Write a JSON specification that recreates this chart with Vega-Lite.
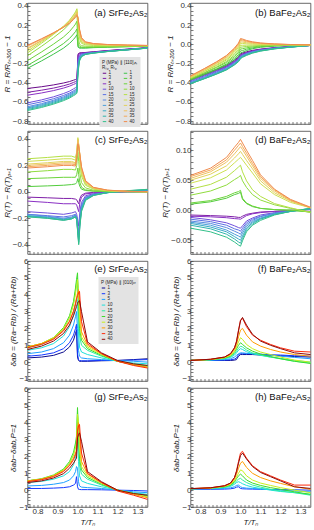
{
"$schema":"https://vega.github.io/schema/vega-lite/v6.json",
"padding":{"left":2.5,"top":1,"right":0,"bottom":0},
"config":{
 "font":"Liberation Sans",
 "view":{"stroke":"#444","strokeWidth":0.8},
 "axis":{"grid":false,"domain":false,"tickColor":"#444","tickWidth":0.7,"tickSize":-2.5,"labelFontSize":8,"labelColor":"#333","labelFont":"Liberation Sans","titleFont":"Liberation Sans","titleFontSize":8,"titleFontWeight":"normal","titleFontStyle":"italic","titleColor":"#222","labelPadding":2,"titlePadding":1,"labelFlush":false,"labelOverlap":false},
 "title":{"anchor":"end","offset":-16,"fontSize":9.5,"fontWeight":"normal","font":"Liberation Sans","color":"#111","dx":-2},
 "line":{"strokeWidth":1,"clip":true}
},
"datasets":{
"a":[
{"x":0.75,"z":0,"L1":-0.46,"L3":-0.5,"L5":-0.53,"L10":-0.61,"L15":-0.63,"L20":-0.65,"L25":-0.66,"L30":-0.67,"L35":-0.68,"L40":-0.69,"R1":-0.25,"R3":-0.22,"R5":-0.17,"R10":-0.12,"R15":-0.09,"R20":-0.07,"R25":-0.05,"R30":-0.04,"R35":-0.02,"R40":-0.01},
{"x":0.82,"L1":-0.442,"L3":-0.478,"L5":-0.507,"L10":-0.579,"L15":-0.599,"L20":-0.618,"L25":-0.628,"L30":-0.638,"L35":-0.648,"L40":-0.658,"R1":-0.173,"R3":-0.136,"R5":-0.08,"R10":-0.021,"R15":0.011,"R20":0.025,"R25":0.036,"R30":0.041,"R35":0.053,"R40":0.058},
{"x":0.88,"L1":-0.423,"L3":-0.456,"L5":-0.482,"L10":-0.547,"L15":-0.567,"L20":-0.583,"L25":-0.593,"L30":-0.603,"L35":-0.613,"L40":-0.623,"R1":-0.103,"R3":-0.06,"R5":0.002,"R10":0.069,"R15":0.103,"R20":0.111,"R25":0.114,"R30":0.115,"R35":0.119,"R40":0.12},
{"x":0.93,"L1":-0.403,"L3":-0.432,"L5":-0.456,"L10":-0.513,"L15":-0.533,"L20":-0.547,"L25":-0.557,"L30":-0.567,"L35":-0.577,"L40":-0.587,"R1":-0.04,"R3":0.008,"R5":0.076,"R10":0.15,"R15":0.186,"R20":0.188,"R25":0.184,"R30":0.182,"R35":0.178,"R40":0.176},
{"x":0.96,"L1":-0.388,"L3":-0.414,"L5":-0.436,"L10":-0.488,"L15":-0.508,"L20":-0.52,"L25":-0.53,"L30":-0.54,"L35":-0.55,"L40":-0.56,"R1":0.009,"R3":0.061,"R5":0.133,"R10":0.213,"R15":0.25,"R20":0.248,"R25":0.239,"R30":0.234,"R35":0.224,"R40":0.219},
{"x":0.98,"L1":-0.374,"L3":-0.397,"L5":-0.418,"L10":-0.464,"L15":-0.484,"L20":-0.495,"L25":-0.505,"L30":-0.515,"L35":-0.525,"L40":-0.535,"R1":0.051,"R3":0.107,"R5":0.183,"R10":0.267,"R15":0.306,"R20":0.3,"R25":0.285,"R30":0.278,"R35":0.264,"R40":0.257},
{"x":0.99,"L1":-0.367,"L3":-0.389,"L5":-0.409,"L10":-0.452,"L15":-0.472,"L20":-0.483,"L25":-0.493,"L30":-0.503,"L35":-0.513,"L40":-0.523,"R1":0.076,"R3":0.133,"R5":0.211,"R10":0.299,"R15":0.338,"R20":0.33,"R25":0.313,"R30":0.304,"R35":0.287,"R40":0.278},
{"x":0.997,"L1":-0.36,"L3":-0.38,"L5":-0.4,"L10":-0.44,"L15":-0.46,"L20":-0.47,"L25":-0.48,"L30":-0.49,"L35":-0.5,"L40":-0.51,"R1":0.1,"R3":0.16,"R5":0.24,"R10":0.33,"R15":0.37,"R20":0.36,"R25":0.34,"R30":0.33,"R35":0.31,"R40":0.3},
{"x":1.003,"L1":-0.1,"L3":-0.11,"L5":-0.12,"L10":-0.16,"L15":-0.19,"L20":-0.21,"L25":-0.23,"L30":-0.25,"L35":-0.27,"L40":-0.29,"R1":-0.03,"R3":-0.02,"R5":0,"R10":0.08,"R15":0.2,"R20":0.24,"R25":0.26,"R30":0.27,"R35":0.27,"R40":0.27},
{"x":1.01,"L1":-0.09,"L3":-0.095,"L5":-0.1,"L10":-0.115,"L15":-0.125,"L20":-0.135,"L25":-0.145,"L30":-0.155,"L35":-0.165,"L40":-0.175,"R1":-0.04,"R3":-0.035,"R5":-0.02,"R10":0,"R15":0.06,"R20":0.09,"R25":0.12,"R30":0.14,"R35":0.15,"R40":0.16},
{"x":1.02,"L1":-0.088,"L3":-0.09,"L5":-0.093,"L10":-0.1,"L15":-0.105,"L20":-0.11,"L25":-0.115,"L30":-0.12,"L35":-0.125,"L40":-0.13,"R1":-0.04,"R3":-0.035,"R5":-0.03,"R10":-0.015,"R15":0.01,"R20":0.025,"R25":0.04,"R30":0.05,"R35":0.06,"R40":0.07},
{"x":1.04,"L1":-0.085,"L3":-0.087,"L5":-0.089,"L10":-0.093,"L15":-0.096,"L20":-0.098,"L25":-0.1,"L30":-0.102,"L35":-0.104,"L40":-0.106,"R1":-0.04,"R3":-0.035,"R5":-0.03,"R10":-0.02,"R15":-0.005,"R20":0.005,"R25":0.012,"R30":0.018,"R35":0.022,"R40":0.026},
{"x":1.08,"L1":-0.078,"L3":-0.08,"L5":-0.082,"L10":-0.085,"L15":-0.087,"L20":-0.088,"L25":-0.089,"L30":-0.09,"L35":-0.091,"L40":-0.092,"R1":-0.035,"R3":-0.032,"R5":-0.03,"R10":-0.022,"R15":-0.012,"R20":-0.005,"R25":0,"R30":0.004,"R35":0.006,"R40":0.008},
{"x":1.15,"L1":-0.065,"L3":-0.067,"L5":-0.069,"L10":-0.071,"L15":-0.072,"L20":-0.073,"L25":-0.074,"L30":-0.075,"L35":-0.075,"L40":-0.076,"R1":-0.03,"R3":-0.028,"R5":-0.027,"R10":-0.022,"R15":-0.015,"R20":-0.01,"R25":-0.007,"R30":-0.005,"R35":-0.003,"R40":-0.002},
{"x":1.25,"L1":-0.05,"L3":-0.052,"L5":-0.053,"L10":-0.055,"L15":-0.056,"L20":-0.056,"L25":-0.057,"L30":-0.057,"L35":-0.058,"L40":-0.058,"R1":-0.025,"R3":-0.024,"R5":-0.023,"R10":-0.02,"R15":-0.016,"R20":-0.013,"R25":-0.011,"R30":-0.01,"R35":-0.009,"R40":-0.008},
{"x":1.35,"z":0,"L1":-0.035,"L3":-0.036,"L5":-0.037,"L10":-0.038,"L15":-0.038,"L20":-0.039,"L25":-0.039,"L30":-0.04,"L35":-0.04,"L40":-0.04,"R1":-0.02,"R3":-0.02,"R5":-0.02,"R10":-0.018,"R15":-0.016,"R20":-0.015,"R25":-0.014,"R30":-0.013,"R35":-0.012,"R40":-0.012}
],
"b":[
{"x":0.75,"z":0,"L1":-0.36,"L3":-0.37,"L5":-0.37,"L10":-0.38,"L15":-0.39,"L20":-0.4,"L25":-0.4,"L30":-0.41,"L35":-0.41,"L40":-0.41,"R1":-0.37,"R3":-0.37,"R5":-0.36,"R10":-0.36,"R15":-0.35,"R20":-0.35,"R25":-0.34,"R30":-0.34,"R35":-0.33,"R40":-0.33},
{"x":0.82,"L1":-0.308,"L3":-0.318,"L5":-0.319,"L10":-0.328,"L15":-0.337,"L20":-0.346,"L25":-0.347,"L30":-0.356,"L35":-0.357,"L40":-0.358,"R1":-0.314,"R3":-0.31,"R5":-0.298,"R10":-0.294,"R15":-0.282,"R20":-0.278,"R25":-0.267,"R30":-0.264,"R35":-0.254,"R40":-0.252},
{"x":0.88,"L1":-0.261,"L3":-0.271,"L5":-0.273,"L10":-0.281,"L15":-0.289,"L20":-0.297,"L25":-0.299,"L30":-0.307,"L35":-0.309,"L40":-0.311,"R1":-0.264,"R3":-0.256,"R5":-0.242,"R10":-0.235,"R15":-0.221,"R20":-0.213,"R25":-0.201,"R30":-0.196,"R35":-0.186,"R40":-0.182},
{"x":0.93,"L1":-0.217,"L3":-0.227,"L5":-0.23,"L10":-0.237,"L15":-0.244,"L20":-0.252,"L25":-0.254,"L30":-0.262,"L35":-0.264,"L40":-0.267,"R1":-0.216,"R3":-0.205,"R5":-0.19,"R10":-0.179,"R15":-0.163,"R20":-0.152,"R25":-0.139,"R30":-0.131,"R35":-0.121,"R40":-0.116},
{"x":0.97,"L1":-0.165,"L3":-0.175,"L5":-0.179,"L10":-0.185,"L15":-0.191,"L20":-0.198,"L25":-0.201,"L30":-0.208,"L35":-0.211,"L40":-0.215,"R1":-0.16,"R3":-0.145,"R5":-0.128,"R10":-0.113,"R15":-0.095,"R20":-0.08,"R25":-0.066,"R30":-0.055,"R35":-0.045,"R40":-0.038},
{"x":0.99,"L1":-0.131,"L3":-0.141,"L5":-0.146,"L10":-0.151,"L15":-0.157,"L20":-0.162,"L25":-0.167,"L30":-0.172,"L35":-0.177,"L40":-0.181,"R1":-0.124,"R3":-0.106,"R5":-0.087,"R10":-0.07,"R15":-0.051,"R20":-0.033,"R25":-0.019,"R30":-0.006,"R35":0.004,"R40":0.013},
{"x":1.0,"L1":-0.1,"L3":-0.11,"L5":-0.115,"L10":-0.12,"L15":-0.125,"L20":-0.13,"L25":-0.135,"L30":-0.14,"L35":-0.145,"L40":-0.15,"R1":-0.09,"R3":-0.07,"R5":-0.05,"R10":-0.03,"R15":-0.01,"R20":0.01,"R25":0.025,"R30":0.04,"R35":0.05,"R40":0.06},
{"x":1.01,"L1":-0.091,"L3":-0.1,"L5":-0.105,"L10":-0.109,"L15":-0.114,"L20":-0.118,"L25":-0.123,"L30":-0.127,"L35":-0.132,"L40":-0.136,"R1":-0.083,"R3":-0.065,"R5":-0.046,"R10":-0.028,"R15":-0.01,"R20":0.009,"R25":0.023,"R30":0.036,"R35":0.046,"R40":0.055},
{"x":1.03,"L1":-0.078,"L3":-0.086,"L5":-0.089,"L10":-0.093,"L15":-0.097,"L20":-0.1,"L25":-0.104,"L30":-0.108,"L35":-0.112,"L40":-0.116,"R1":-0.065,"R3":-0.051,"R5":-0.037,"R10":-0.023,"R15":-0.009,"R20":0.005,"R25":0.016,"R30":0.026,"R35":0.033,"R40":0.04},
{"x":1.06,"L1":-0.063,"L3":-0.069,"L5":-0.072,"L10":-0.075,"L15":-0.078,"L20":-0.08,"L25":-0.083,"L30":-0.086,"L35":-0.089,"L40":-0.092,"R1":-0.046,"R3":-0.037,"R5":-0.027,"R10":-0.018,"R15":-0.008,"R20":0.002,"R25":0.009,"R30":0.016,"R35":0.021,"R40":0.026},
{"x":1.1,"L1":-0.05,"L3":-0.054,"L5":-0.056,"L10":-0.058,"L15":-0.061,"L20":-0.063,"L25":-0.065,"L30":-0.067,"L35":-0.069,"L40":-0.071,"R1":-0.031,"R3":-0.025,"R5":-0.019,"R10":-0.013,"R15":-0.007,"R20":-0.001,"R25":0.003,"R30":0.008,"R35":0.011,"R40":0.014},
{"x":1.17,"L1":-0.035,"L3":-0.037,"L5":-0.039,"L10":-0.04,"L15":-0.041,"L20":-0.043,"L25":-0.044,"L30":-0.045,"L35":-0.047,"L40":-0.048,"R1":-0.019,"R3":-0.016,"R5":-0.013,"R10":-0.01,"R15":-0.007,"R20":-0.004,"R25":-0.001,"R30":0.001,"R35":0.002,"R40":0.004},
{"x":1.25,"L1":-0.023,"L3":-0.025,"L5":-0.025,"L10":-0.026,"L15":-0.027,"L20":-0.027,"L25":-0.028,"L30":-0.029,"L35":-0.029,"L40":-0.03,"R1":-0.011,"R3":-0.01,"R5":-0.009,"R10":-0.007,"R15":-0.006,"R20":-0.005,"R25":-0.004,"R30":-0.003,"R35":-0.003,"R40":-0.002},
{"x":1.35,"z":0,"L1":-0.012,"L3":-0.012,"L5":-0.012,"L10":-0.012,"L15":-0.012,"L20":-0.012,"L25":-0.012,"L30":-0.012,"L35":-0.012,"L40":-0.012,"R1":-0.006,"R3":-0.006,"R5":-0.006,"R10":-0.006,"R15":-0.006,"R20":-0.006,"R25":-0.006,"R30":-0.006,"R35":-0.006,"R40":-0.006}
],
"c":[
{"x":0.75,"z":0,"L1":0,"R1":0,"L3":-0.04,"L5":-0.07,"L10":-0.15,"L15":-0.17,"L20":-0.17,"L25":-0.18,"L30":-0.18,"L35":-0.185,"L40":-0.19,"R3":0.04,"R5":0.1,"R10":0.15,"R15":0.25,"R20":0.23,"R25":0.21,"R30":0.2,"R35":0.19,"R40":0.18},
{"x":0.85,"L3":-0.045,"L5":-0.08,"L10":-0.16,"L15":-0.18,"L20":-0.185,"L25":-0.19,"L30":-0.195,"L35":-0.2,"L40":-0.2,"R3":0.045,"R5":0.105,"R10":0.16,"R15":0.26,"R20":0.24,"R25":0.22,"R30":0.21,"R35":0.2,"R40":0.19},
{"x":0.93,"L3":-0.05,"L5":-0.09,"L10":-0.17,"L15":-0.19,"L20":-0.2,"L25":-0.205,"L30":-0.21,"L35":-0.215,"L40":-0.215,"R3":0.05,"R5":0.11,"R10":0.17,"R15":0.27,"R20":0.25,"R25":0.23,"R30":0.22,"R35":0.21,"R40":0.2},
{"x":0.97,"L3":-0.05,"L5":-0.09,"L10":-0.16,"L15":-0.18,"L20":-0.19,"L25":-0.195,"L30":-0.2,"L35":-0.205,"L40":-0.205,"R3":0.055,"R5":0.11,"R10":0.17,"R15":0.27,"R20":0.25,"R25":0.23,"R30":0.22,"R35":0.21,"R40":0.2},
{"x":0.99,"L3":-0.055,"L5":-0.09,"L10":-0.15,"L15":-0.17,"L20":-0.175,"L25":-0.18,"L30":-0.185,"L35":-0.19,"L40":-0.19,"R3":0.06,"R5":0.11,"R10":0.165,"R15":0.26,"R20":0.24,"R25":0.22,"R30":0.215,"R35":0.205,"R40":0.195},
{"x":0.996,"L3":-0.06,"L5":-0.1,"L10":-0.17,"L15":-0.19,"L20":-0.2,"L25":-0.2,"L30":-0.21,"L35":-0.21,"L40":-0.21,"R3":0.07,"R5":0.13,"R10":0.2,"R15":0.3,"R20":0.29,"R25":0.28,"R30":0.27,"R35":0.26,"R40":0.25},
{"x":1.002,"L3":-0.08,"L5":-0.13,"L10":-0.22,"L15":-0.26,"L20":-0.28,"L25":-0.3,"L30":-0.31,"L35":-0.32,"L40":-0.33,"R3":0.1,"R5":0.18,"R10":0.3,"R15":0.4,"R20":0.41,"R25":0.4,"R30":0.39,"R35":0.37,"R40":0.36},
{"x":1.006,"L3":-0.09,"L5":-0.15,"L10":-0.26,"L15":-0.31,"L20":-0.34,"L25":-0.36,"L30":-0.38,"L35":-0.39,"L40":-0.4,"R3":0.07,"R5":0.13,"R10":0.23,"R15":0.33,"R20":0.35,"R25":0.36,"R30":0.36,"R35":0.35,"R40":0.34},
{"x":1.012,"L3":-0.05,"L5":-0.08,"L10":-0.15,"L15":-0.19,"L20":-0.21,"L25":-0.23,"L30":-0.24,"L35":-0.25,"L40":-0.26,"R3":0.04,"R5":0.07,"R10":0.14,"R15":0.22,"R20":0.25,"R25":0.27,"R30":0.28,"R35":0.28,"R40":0.28},
{"x":1.02,"L3":-0.025,"L5":-0.04,"L10":-0.08,"L15":-0.1,"L20":-0.11,"L25":-0.12,"L30":-0.13,"L35":-0.14,"L40":-0.15,"R3":0.02,"R5":0.035,"R10":0.07,"R15":0.12,"R20":0.14,"R25":0.16,"R30":0.17,"R35":0.18,"R40":0.19},
{"x":1.04,"L3":-0.01,"L5":-0.016,"L10":-0.03,"L15":-0.04,"L20":-0.045,"L25":-0.05,"L30":-0.055,"L35":-0.06,"L40":-0.065,"R3":0.01,"R5":0.015,"R10":0.03,"R15":0.05,"R20":0.06,"R25":0.07,"R30":0.075,"R35":0.08,"R40":0.085},
{"x":1.08,"L3":-0.004,"L5":-0.008,"L10":-0.014,"L15":-0.018,"L20":-0.02,"L25":-0.022,"L30":-0.024,"L35":-0.026,"L40":-0.028,"R3":0.005,"R5":0.007,"R10":0.012,"R15":0.02,"R20":0.024,"R25":0.028,"R30":0.03,"R35":0.032,"R40":0.034},
{"x":1.15,"L3":-0.002,"L5":-0.003,"L10":-0.005,"L15":-0.006,"L20":-0.006,"L25":-0.006,"L30":-0.006,"L35":-0.006,"L40":-0.006,"R3":0.002,"R5":0.003,"R10":0.005,"R15":0.008,"R20":0.009,"R25":0.01,"R30":0.011,"R35":0.012,"R40":0.013},
{"x":1.25,"L3":0,"L5":0,"L10":0.003,"L15":0.004,"L20":0.005,"L25":0.006,"L30":0.007,"L35":0.008,"L40":0.009,"R3":0,"R5":0.001,"R10":0.002,"R15":0.003,"R20":0.003,"R25":0.003,"R30":0.003,"R35":0.004,"R40":0.004},
{"x":1.35,"z":0,"L1":0,"R1":0,"L3":0,"L5":0.001,"L10":0.006,"L15":0.009,"L20":0.011,"L25":0.013,"L30":0.015,"L35":0.017,"L40":0.019,"R3":0,"R5":0,"R10":0,"R15":0.001,"R20":0.001,"R25":0.001,"R30":0.001,"R35":0.001,"R40":0.001}
],
"d":[
{"x":0.75,"z":0,"L1":0,"R1":0,"L3":-0.008,"L5":-0.01,"L10":-0.012,"L15":-0.015,"L20":-0.018,"L25":-0.02,"L30":-0.022,"L35":-0.025,"L40":-0.03,"R3":0.01,"R5":0.012,"R10":0.025,"R15":0.035,"R20":0.045,"R25":0.05,"R30":0.053,"R35":0.056,"R40":0.058},
{"x":0.85,"L3":-0.009,"L5":-0.011,"L10":-0.016,"L15":-0.019,"L20":-0.022,"L25":-0.025,"L30":-0.028,"L35":-0.031,"L40":-0.036,"R3":0.014,"R5":0.016,"R10":0.032,"R15":0.043,"R20":0.054,"R25":0.06,"R30":0.064,"R35":0.067,"R40":0.07},
{"x":0.93,"L3":-0.01,"L5":-0.0125,"L10":-0.021,"L15":-0.025,"L20":-0.029,"L25":-0.033,"L30":-0.036,"L35":-0.04,"L40":-0.045,"R3":0.02,"R5":0.023,"R10":0.042,"R15":0.055,"R20":0.067,"R25":0.074,"R30":0.08,"R35":0.084,"R40":0.088},
{"x":0.97,"L3":-0.011,"L5":-0.014,"L10":-0.026,"L15":-0.031,"L20":-0.035,"L25":-0.04,"L30":-0.044,"L35":-0.048,"L40":-0.053,"R3":0.026,"R5":0.029,"R10":0.051,"R15":0.066,"R20":0.079,"R25":0.087,"R30":0.094,"R35":0.1,"R40":0.105},
{"x":0.99,"L3":-0.012,"L5":-0.0145,"L10":-0.029,"L15":-0.033,"L20":-0.038,"L25":-0.043,"L30":-0.048,"L35":-0.053,"L40":-0.058,"R3":0.028,"R5":0.031,"R10":0.055,"R15":0.072,"R20":0.085,"R25":0.094,"R30":0.102,"R35":0.108,"R40":0.113},
{"x":1.0,"L3":-0.012,"L5":-0.015,"L10":-0.03,"L15":-0.035,"L20":-0.04,"L25":-0.045,"L30":-0.05,"L35":-0.055,"L40":-0.06,"R3":0.03,"R5":0.033,"R10":0.058,"R15":0.075,"R20":0.088,"R25":0.098,"R30":0.106,"R35":0.112,"R40":0.118},
{"x":1.01,"L3":-0.01,"L5":-0.013,"L10":-0.026,"L15":-0.03,"L20":-0.034,"L25":-0.038,"L30":-0.043,"L35":-0.047,"L40":-0.051,"R3":0.018,"R5":0.02,"R10":0.049,"R15":0.064,"R20":0.084,"R25":0.093,"R30":0.101,"R35":0.106,"R40":0.112},
{"x":1.03,"L3":-0.007,"L5":-0.009,"L10":-0.018,"L15":-0.021,"L20":-0.024,"L25":-0.027,"L30":-0.03,"L35":-0.033,"L40":-0.036,"R3":0.011,"R5":0.012,"R10":0.038,"R15":0.049,"R20":0.075,"R25":0.083,"R30":0.09,"R35":0.095,"R40":0.1},
{"x":1.06,"L3":-0.005,"L5":-0.006,"L10":-0.013,"L15":-0.015,"L20":-0.017,"L25":-0.019,"L30":-0.021,"L35":-0.023,"L40":-0.025,"R3":0.006,"R5":0.007,"R10":0.026,"R15":0.034,"R20":0.062,"R25":0.069,"R30":0.074,"R35":0.078,"R40":0.083},
{"x":1.1,"L3":-0.003,"L5":-0.004,"L10":-0.008,"L15":-0.01,"L20":-0.011,"L25":-0.013,"L30":-0.014,"L35":-0.015,"L40":-0.017,"R3":0.003,"R5":0.003,"R10":0.017,"R15":0.023,"R20":0.044,"R25":0.049,"R30":0.053,"R35":0.056,"R40":0.059},
{"x":1.17,"L3":-0.002,"L5":-0.002,"L10":-0.004,"L15":-0.005,"L20":-0.005,"L25":-0.006,"L30":-0.007,"L35":-0.007,"L40":-0.008,"R3":0.001,"R5":0.001,"R10":0.009,"R15":0.011,"R20":0.026,"R25":0.029,"R30":0.032,"R35":0.034,"R40":0.035},
{"x":1.25,"L3":0,"L5":-0.001,"L10":-0.001,"L15":-0.001,"L20":-0.002,"L25":-0.002,"L30":-0.002,"L35":-0.002,"L40":-0.002,"R3":0,"R5":0,"R10":0.003,"R15":0.004,"R20":0.013,"R25":0.015,"R30":0.016,"R35":0.017,"R40":0.018},
{"x":1.35,"z":0,"L1":0,"R1":0,"L3":0.001,"L5":0.001,"L10":0.002,"L15":0.002,"L20":0.002,"L25":0.002,"L30":0.003,"L35":0.003,"L40":0.003,"R3":-0.003,"R5":-0.003,"R10":-0.003,"R15":-0.004,"R20":0.004,"R25":0.004,"R30":0.004,"R35":0.004,"R40":0.005}
],
"e":[
{"x":0.75,"z":0,"p1":0.25,"p3":0.35,"p5":0.5,"p10":0.7,"p15":0.85,"p20":0.9,"p25":0.9,"p30":0.9,"p35":0.85,"p40":0.75},
{"x":0.82,"p1":0.3,"p3":0.42,"p5":0.6,"p10":0.85,"p15":1.05,"p20":1.1,"p25":1.1,"p30":1.1,"p35":1.05,"p40":0.95},
{"x":0.88,"p1":0.4,"p3":0.55,"p5":0.8,"p10":1.1,"p15":1.4,"p20":1.45,"p25":1.45,"p30":1.4,"p35":1.35,"p40":1.25},
{"x":0.93,"p1":0.6,"p3":0.8,"p5":1.15,"p10":1.55,"p15":1.95,"p20":2.05,"p25":2.0,"p30":1.9,"p35":1.85,"p40":1.7},
{"x":0.96,"p1":0.9,"p3":1.15,"p5":1.6,"p10":2.1,"p15":2.65,"p20":2.75,"p25":2.65,"p30":2.45,"p35":2.4,"p40":2.2},
{"x":0.98,"p1":1.3,"p3":1.6,"p5":2.2,"p10":2.8,"p15":3.5,"p20":3.6,"p25":3.4,"p30":3.05,"p35":3.0,"p40":2.75},
{"x":0.99,"p1":1.7,"p3":2.0,"p5":2.7,"p10":3.4,"p15":4.2,"p20":4.4,"p25":4.05,"p30":3.5,"p35":3.45,"p40":3.1},
{"x":0.995,"p1":1.9,"p3":2.25,"p5":3.0,"p10":3.8,"p15":4.7,"p20":4.9,"p25":4.5,"p30":3.8,"p35":3.7,"p40":3.3},
{"x":1.0,"p1":0.3,"p3":0.5,"p5":2.0,"p10":3.6,"p15":5.0,"p20":5.3,"p25":4.9,"p30":4.1,"p35":3.95,"p40":3.5},
{"x":1.005,"p1":0.1,"p3":0.15,"p5":0.7,"p10":1.8,"p15":3.0,"p20":3.6,"p25":4.2,"p30":4.3,"p35":4.1,"p40":3.6},
{"x":1.01,"p1":0.05,"p3":0.1,"p5":0.35,"p10":0.9,"p15":1.6,"p20":2.0,"p25":2.6,"p30":3.6,"p35":4.2,"p40":3.65},
{"x":1.02,"p1":0.05,"p3":0.08,"p5":0.25,"p10":0.6,"p15":1.0,"p20":1.3,"p25":1.5,"p30":1.8,"p35":2.4,"p40":3.0},
{"x":1.05,"p1":0.05,"p3":0.08,"p5":0.2,"p10":0.45,"p15":0.7,"p20":0.8,"p25":0.9,"p30":1.0,"p35":1.1,"p40":1.2},
{"x":1.12,"p1":0.08,"p3":0.1,"p5":0.15,"p10":0.25,"p15":0.35,"p20":0.4,"p25":0.45,"p30":0.5,"p35":0.5,"p40":0.55},
{"x":1.2,"p1":0.1,"p3":0.1,"p5":0.1,"p10":0.05,"p15":0.05,"p20":0.05,"p25":0.05,"p30":0.05,"p35":0.05,"p40":0.1},
{"x":1.28,"p1":0.15,"p3":0.12,"p5":0.05,"p10":-0.05,"p15":-0.1,"p20":-0.15,"p25":-0.15,"p30":-0.15,"p35":-0.2,"p40":-0.1},
{"x":1.35,"z":0,"p1":0.2,"p3":0.15,"p5":0.0,"p10":-0.1,"p15":-0.2,"p20":-0.25,"p25":-0.3,"p30":-0.3,"p35":-0.35,"p40":-0.2}
],
"f":[
{"x":0.75,"z":0,"p1":0.1,"p3":0.1,"p5":0.1,"p10":0.1,"p15":0.1,"p20":0.1,"p25":0.1,"p30":0.1,"p35":0.1,"p40":0.1},
{"x":0.85,"p1":0.1,"p3":0.1,"p5":0.12,"p10":0.13,"p15":0.14,"p20":0.15,"p25":0.15,"p30":0.16,"p35":0.17,"p40":0.17},
{"x":0.92,"p1":0.1,"p3":0.12,"p5":0.15,"p10":0.2,"p15":0.22,"p20":0.24,"p25":0.26,"p30":0.28,"p35":0.3,"p40":0.3},
{"x":0.95,"p1":0.1,"p3":0.14,"p5":0.2,"p10":0.28,"p15":0.32,"p20":0.36,"p25":0.4,"p30":0.45,"p35":0.5,"p40":0.5},
{"x":0.97,"p1":0.12,"p3":0.18,"p5":0.3,"p10":0.42,"p15":0.5,"p20":0.58,"p25":0.65,"p30":0.75,"p35":0.85,"p40":0.85},
{"x":0.98,"p1":0.15,"p3":0.25,"p5":0.4,"p10":0.55,"p15":0.65,"p20":0.78,"p25":0.9,"p30":1.05,"p35":1.25,"p40":1.2},
{"x":0.99,"p1":0.35,"p3":0.45,"p5":0.5,"p10":0.7,"p15":0.82,"p20":1.0,"p25":1.2,"p30":1.5,"p35":1.9,"p40":1.85},
{"x":1.0,"p1":0.45,"p3":0.5,"p5":0.55,"p10":0.8,"p15":0.95,"p20":1.15,"p25":1.45,"p30":1.9,"p35":2.5,"p40":2.45},
{"x":1.01,"p1":0.45,"p3":0.5,"p5":0.55,"p10":0.75,"p15":0.9,"p20":1.05,"p25":1.35,"p30":2.0,"p35":2.6,"p40":2.65},
{"x":1.03,"p1":0.45,"p3":0.5,"p5":0.52,"p10":0.62,"p15":0.72,"p20":0.85,"p25":1.05,"p30":1.6,"p35":2.1,"p40":2.2},
{"x":1.06,"p1":0.45,"p3":0.5,"p5":0.5,"p10":0.5,"p15":0.55,"p20":0.65,"p25":0.8,"p30":1.2,"p35":1.6,"p40":1.65},
{"x":1.1,"p1":0.42,"p3":0.47,"p5":0.45,"p10":0.4,"p15":0.42,"p20":0.48,"p25":0.6,"p30":0.95,"p35":1.3,"p40":1.25},
{"x":1.15,"p1":0.4,"p3":0.44,"p5":0.4,"p10":0.3,"p15":0.3,"p20":0.33,"p25":0.45,"p30":0.75,"p35":1.05,"p40":1.0},
{"x":1.2,"p1":0.38,"p3":0.42,"p5":0.35,"p10":0.22,"p15":0.2,"p20":0.2,"p25":0.3,"p30":0.6,"p35":0.85,"p40":0.8},
{"x":1.27,"p1":0.33,"p3":0.38,"p5":0.28,"p10":0.1,"p15":0.05,"p20":0.05,"p25":0.12,"p30":0.45,"p35":0.65,"p40":0.55},
{"x":1.35,"z":0,"p1":0.3,"p3":0.35,"p5":0.2,"p10":0.0,"p15":-0.05,"p20":-0.08,"p25":0.0,"p30":0.35,"p35":0.6,"p40":0.45}
],
"g":[
{"x":0.75,"z":0,"p1":0,"p3":0.1,"p5":0.25,"p10":0.45,"p15":0.55,"p20":0.55,"p25":0.55,"p30":0.55,"p35":0.5,"p40":0.45},
{"x":0.82,"p3":0.1,"p5":0.28,"p10":0.52,"p15":0.65,"p20":0.68,"p25":0.66,"p30":0.65,"p35":0.62,"p40":0.55},
{"x":0.88,"p3":0.12,"p5":0.35,"p10":0.65,"p15":0.85,"p20":0.9,"p25":0.87,"p30":0.85,"p35":0.8,"p40":0.72},
{"x":0.93,"p3":0.15,"p5":0.45,"p10":0.85,"p15":1.2,"p20":1.25,"p25":1.2,"p30":1.15,"p35":1.1,"p40":0.98},
{"x":0.96,"p3":0.2,"p5":0.6,"p10":1.1,"p15":1.6,"p20":1.7,"p25":1.6,"p30":1.5,"p35":1.45,"p40":1.3},
{"x":0.98,"p3":0.3,"p5":0.85,"p10":1.5,"p15":2.1,"p20":2.25,"p25":2.1,"p30":1.9,"p35":1.8,"p40":1.6},
{"x":0.99,"p3":0.4,"p5":1.1,"p10":1.9,"p15":2.6,"p20":2.8,"p25":2.5,"p30":2.2,"p35":2.1,"p40":1.8},
{"x":0.995,"p3":0.8,"p5":1.4,"p10":2.3,"p15":3.0,"p20":3.2,"p25":2.8,"p30":2.4,"p35":2.3,"p40":1.9},
{"x":1.0,"p3":0.2,"p5":1.3,"p10":3.1,"p15":4.6,"p20":4.9,"p25":4.5,"p30":3.7,"p35":3.5,"p40":3.1},
{"x":1.005,"p3":0.05,"p5":0.5,"p10":1.7,"p15":2.9,"p20":3.4,"p25":4.0,"p30":4.0,"p35":3.8,"p40":3.3},
{"x":1.01,"p3":0.04,"p5":0.25,"p10":0.85,"p15":1.5,"p20":1.9,"p25":2.5,"p30":3.4,"p35":3.9,"p40":3.4},
{"x":1.02,"p3":0.03,"p5":0.18,"p10":0.55,"p15":0.95,"p20":1.2,"p25":1.4,"p30":1.7,"p35":2.2,"p40":2.9},
{"x":1.05,"p3":0.03,"p5":0.15,"p10":0.4,"p15":0.65,"p20":0.75,"p25":0.85,"p30":0.95,"p35":1.0,"p40":1.1},
{"x":1.12,"p3":0.02,"p5":0.1,"p10":0.2,"p15":0.3,"p20":0.35,"p25":0.4,"p30":0.45,"p35":0.45,"p40":0.5},
{"x":1.2,"p3":0.0,"p5":0.0,"p10":0.0,"p15":0.0,"p20":0.0,"p25":0.0,"p30":0.0,"p35":-0.05,"p40":0.0},
{"x":1.28,"p3":-0.02,"p5":-0.1,"p10":-0.15,"p15":-0.2,"p20":-0.2,"p25":-0.2,"p30":-0.25,"p35":-0.3,"p40":-0.2},
{"x":1.35,"z":0,"p1":0,"p3":-0.05,"p5":-0.15,"p10":-0.25,"p15":-0.3,"p20":-0.35,"p25":-0.4,"p30":-0.45,"p35":-0.55,"p40":-0.3}
],
"h":[
{"x":0.75,"z":0,"p1":0,"p3":0.05,"p5":0.07,"p10":0.08,"p15":0.08,"p20":0.08,"p25":0.08,"p30":0.09,"p35":0.09,"p40":0.09},
{"x":0.85,"p3":0.05,"p5":0.08,"p10":0.1,"p15":0.11,"p20":0.12,"p25":0.12,"p30":0.13,"p35":0.14,"p40":0.14},
{"x":0.92,"p3":0.06,"p5":0.1,"p10":0.15,"p15":0.17,"p20":0.2,"p25":0.22,"p30":0.24,"p35":0.26,"p40":0.26},
{"x":0.95,"p3":0.08,"p5":0.14,"p10":0.22,"p15":0.27,"p20":0.3,"p25":0.34,"p30":0.38,"p35":0.42,"p40":0.42},
{"x":0.97,"p3":0.12,"p5":0.2,"p10":0.35,"p15":0.42,"p20":0.5,"p25":0.56,"p30":0.66,"p35":0.75,"p40":0.75},
{"x":0.98,"p3":0.18,"p5":0.28,"p10":0.45,"p15":0.55,"p20":0.68,"p25":0.78,"p30":0.95,"p35":1.15,"p40":1.1},
{"x":0.99,"p3":0.2,"p5":0.3,"p10":0.5,"p15":0.65,"p20":0.85,"p25":1.0,"p30":1.3,"p35":1.7,"p40":1.6},
{"x":1.0,"p3":0.1,"p5":0.2,"p10":0.45,"p15":0.7,"p20":0.95,"p25":1.2,"p30":1.6,"p35":2.2,"p40":2.05},
{"x":1.01,"p3":0.08,"p5":0.15,"p10":0.38,"p15":0.6,"p20":0.85,"p25":1.15,"p30":1.7,"p35":2.3,"p40":2.2},
{"x":1.03,"p3":0.07,"p5":0.12,"p10":0.28,"p15":0.45,"p20":0.6,"p25":0.85,"p30":1.35,"p35":1.9,"p40":1.85},
{"x":1.06,"p3":0.06,"p5":0.1,"p10":0.18,"p15":0.3,"p20":0.42,"p25":0.6,"p30":1.0,"p35":1.45,"p40":1.4},
{"x":1.1,"p3":0.05,"p5":0.07,"p10":0.1,"p15":0.18,"p20":0.28,"p25":0.42,"p30":0.75,"p35":1.1,"p40":1.05},
{"x":1.15,"p3":0.04,"p5":0.03,"p10":0.0,"p15":0.05,"p20":0.15,"p25":0.28,"p30":0.55,"p35":0.85,"p40":0.8},
{"x":1.2,"p3":0.03,"p5":0.0,"p10":-0.08,"p15":-0.05,"p20":0.05,"p25":0.15,"p30":0.4,"p35":0.6,"p40":0.55},
{"x":1.27,"p3":0.02,"p5":-0.05,"p10":-0.15,"p15":-0.15,"p20":-0.1,"p25":0.0,"p30":0.2,"p35":0.3,"p40":0.2},
{"x":1.35,"z":0,"p1":0,"p3":0.0,"p5":-0.1,"p10":-0.25,"p15":-0.3,"p20":-0.25,"p25":-0.15,"p30":0.05,"p35":0.3,"p40":0.1}
]
},
"columns":2,
"spacing":{"row":7,"column":43},
"bounds":"flush",
"resolve":{"scale":{"color":"independent"}},
"concat":[
  {"width":120,"height":121,"data":{"name":"a"},"title":"(a) SrFe₂As₂",
   "transform":[{"fold":["z","L1","L3","L5","L10","L15","L20","L25","L30","L35","L40","R1","R3","R5","R10","R15","R20","R25","R30","R35","R40"],"as":["s","y"]}],
   "mark":{"type":"line"},
   "encoding":{
     "x":{"field":"x","type":"quantitative","scale":{"domain":[0.75,1.35],"nice":false,"zero":false},"axis":{"values":[0.76,0.78,0.8,0.82,0.84,0.86,0.88,0.9,0.92,0.94,0.96,0.98,1,1.02,1.04,1.06,1.08,1.1,1.12,1.14,1.16,1.18,1.2,1.22,1.24,1.26,1.28,1.3,1.32,1.34],"labels":false,"title":null,"labelOverlap":false}},
     "y":{"field":"y","type":"quantitative","scale":{"domain":[-0.83,0.43],"nice":false,"zero":false},"axis":{"values":[-0.8,-0.75,-0.7,-0.65,-0.6,-0.55,-0.5,-0.45,-0.4,-0.35,-0.3,-0.25,-0.2,-0.15,-0.1,-0.05,0,0.05,0.1,0.15,0.2,0.25,0.3,0.35,0.4],"labelExpr":"abs(datum.value/0.2-round(datum.value/0.2))<0.01 ? format(datum.value,'.1f') : ''","labelOverlap":false,"title":"R = R/Rₜ₌₃₀₀ − 1"}},
     "color":{"field":"s","type":"nominal","scale":{"domain":["z","L1","L3","L5","L10","L15","L20","L25","L30","L35","L40","R1","R3","R5","R10","R15","R20","R25","R30","R35","R40"],"range":["#9a9a9a","#6a0a8a","#7f1fa8","#8a30c4","#7050dc","#5b70e4","#5a8ae0","#4c9ed8","#3aaac4","#31b4ac","#33c08a","#3cc24a","#52cc3c","#6cd43a","#90dc3e","#b4e044","#cfe052","#e2d25c","#f0c060","#f4a858","#f08a4c"]},
      "legend":{"values":["L1","L3","L5","L10","L15","L20","L25","L30","L35","L40","R1","R3","R5","R10","R15","R20","R25","R30","R35","R40"],"orient":"none","legendX":72,"legendY":54,"columns":2,"symbolType":"stroke","symbolSize":12,"symbolStrokeWidth":3.5,"labelFontSize":4.5,"labelOffset":1.5,"rowPadding":-0.6,"columnPadding":7,"padding":2.5,"fillColor":"#e3e3e3","titleFontSize":4.5,"titleFontWeight":"normal","titleLineHeight":5.5,"titlePadding":1,"labelFont":"Liberation Sans","titleFont":"Liberation Sans","labelColor":"#222","titleColor":"#222","labelExpr":"substring(datum.label,1)","title":["P (MPa) ∥ [110]ₜₑₜ","  Rₗₗₚ            Rᵣₚ"]}}}},
  {"width":120,"height":121,"data":{"name":"b"},"title":"(b) BaFe₂As₂",
   "transform":[{"fold":["z","L1","L3","L5","L10","L15","L20","L25","L30","L35","L40","R1","R3","R5","R10","R15","R20","R25","R30","R35","R40"],"as":["s","y"]}],
   "mark":{"type":"line"},
   "encoding":{
     "x":{"field":"x","type":"quantitative","scale":{"domain":[0.75,1.35],"nice":false,"zero":false},"axis":{"values":[0.76,0.78,0.8,0.82,0.84,0.86,0.88,0.9,0.92,0.94,0.96,0.98,1,1.02,1.04,1.06,1.08,1.1,1.12,1.14,1.16,1.18,1.2,1.22,1.24,1.26,1.28,1.3,1.32,1.34],"labels":false,"title":null,"labelOverlap":false}},
     "y":{"field":"y","type":"quantitative","scale":{"domain":[-0.83,0.43],"nice":false,"zero":false},"axis":{"values":[-0.8,-0.75,-0.7,-0.65,-0.6,-0.55,-0.5,-0.45,-0.4,-0.35,-0.3,-0.25,-0.2,-0.15,-0.1,-0.05,0,0.05,0.1,0.15,0.2,0.25,0.3,0.35,0.4],"labelExpr":"abs(datum.value/0.2-round(datum.value/0.2))<0.01 ? format(datum.value,'.1f') : ''","labelOverlap":false,"title":"R = R/Rₜ₌₂₀₀ − 1"}},
     "color":{"field":"s","type":"nominal","scale":{"domain":["z","L1","L3","L5","L10","L15","L20","L25","L30","L35","L40","R1","R3","R5","R10","R15","R20","R25","R30","R35","R40"],"range":["#9a9a9a","#6a0a8a","#7f1fa8","#8a30c4","#7050dc","#5b70e4","#5a8ae0","#4c9ed8","#3aaac4","#31b4ac","#33c08a","#3cc24a","#52cc3c","#6cd43a","#90dc3e","#b4e044","#cfe052","#e2d25c","#f0c060","#f4a858","#f08a4c"]},"legend":null}}},
  {"width":120,"height":123,"data":{"name":"c"},"title":"(c) SrFe₂As₂",
   "transform":[{"fold":["z","L1","L3","L5","L10","L15","L20","L25","L30","L35","L40","R1","R3","R5","R10","R15","R20","R25","R30","R35","R40"],"as":["s","y"]}],
   "mark":{"type":"line"},
   "encoding":{
     "x":{"field":"x","type":"quantitative","scale":{"domain":[0.75,1.35],"nice":false,"zero":false},"axis":{"values":[0.76,0.78,0.8,0.82,0.84,0.86,0.88,0.9,0.92,0.94,0.96,0.98,1,1.02,1.04,1.06,1.08,1.1,1.12,1.14,1.16,1.18,1.2,1.22,1.24,1.26,1.28,1.3,1.32,1.34],"labels":false,"title":null,"labelOverlap":false}},
     "y":{"field":"y","type":"quantitative","scale":{"domain":[-0.47,0.46],"nice":false,"zero":false},"axis":{"values":[-0.45,-0.4,-0.35,-0.3,-0.25,-0.2,-0.15,-0.1,-0.05,0,0.05,0.1,0.15,0.2,0.25,0.3,0.35,0.4,0.45],"labelExpr":"abs(datum.value/0.2-round(datum.value/0.2))<0.01 ? format(datum.value,'.1f') : ''","labelOverlap":false,"title":"R(T) − R(T)ₚ₌₁"}},
     "color":{"field":"s","type":"nominal","scale":{"domain":["z","L1","L3","L5","L10","L15","L20","L25","L30","L35","L40","R1","R3","R5","R10","R15","R20","R25","R30","R35","R40"],"range":["#9a9a9a","#6a0a8a","#7f1fa8","#8a30c4","#7050dc","#5b70e4","#5a8ae0","#4c9ed8","#3aaac4","#31b4ac","#33c08a","#3cc24a","#52cc3c","#6cd43a","#90dc3e","#b4e044","#cfe052","#e2d25c","#f0c060","#f4a858","#f08a4c"]},"legend":null}}},
  {"width":120,"height":123,"data":{"name":"d"},"title":"(d) BaFe₂As₂",
   "transform":[{"fold":["z","L1","L3","L5","L10","L15","L20","L25","L30","L35","L40","R1","R3","R5","R10","R15","R20","R25","R30","R35","R40"],"as":["s","y"]}],
   "mark":{"type":"line"},
   "encoding":{
     "x":{"field":"x","type":"quantitative","scale":{"domain":[0.75,1.35],"nice":false,"zero":false},"axis":{"values":[0.76,0.78,0.8,0.82,0.84,0.86,0.88,0.9,0.92,0.94,0.96,0.98,1,1.02,1.04,1.06,1.08,1.1,1.12,1.14,1.16,1.18,1.2,1.22,1.24,1.26,1.28,1.3,1.32,1.34],"labels":false,"title":null,"labelOverlap":false}},
     "y":{"field":"y","type":"quantitative","scale":{"domain":[-0.073,0.132],"nice":false,"zero":false},"axis":{"values":[-0.07,-0.06,-0.05,-0.04,-0.03,-0.02,-0.01,0,0.01,0.02,0.03,0.04,0.05,0.06,0.07,0.08,0.09,0.1,0.11,0.12,0.13],"labelExpr":"abs(datum.value*20-round(datum.value*20))<0.01 ? format(datum.value,'.2f') : ''","labelOverlap":false,"title":"R(T) − R(T)ₚ₌₁"}},
     "color":{"field":"s","type":"nominal","scale":{"domain":["z","L1","L3","L5","L10","L15","L20","L25","L30","L35","L40","R1","R3","R5","R10","R15","R20","R25","R30","R35","R40"],"range":["#9a9a9a","#6a0a8a","#7f1fa8","#8a30c4","#7050dc","#5b70e4","#5a8ae0","#4c9ed8","#3aaac4","#31b4ac","#33c08a","#3cc24a","#52cc3c","#6cd43a","#90dc3e","#b4e044","#cfe052","#e2d25c","#f0c060","#f4a858","#f08a4c"]},"legend":null}}},
  {"width":120,"height":120,"data":{"name":"e"},"title":"(e) SrFe₂As₂",
   "transform":[{"fold":["z","p1","p3","p5","p10","p15","p20","p25","p30","p35","p40"],"as":["s","y"]}],
   "mark":{"type":"line"},
   "encoding":{
     "x":{"field":"x","type":"quantitative","scale":{"domain":[0.75,1.35],"nice":false,"zero":false},"axis":{"values":[0.76,0.78,0.8,0.82,0.84,0.86,0.88,0.9,0.92,0.94,0.96,0.98,1,1.02,1.04,1.06,1.08,1.1,1.12,1.14,1.16,1.18,1.2,1.22,1.24,1.26,1.28,1.3,1.32,1.34],"labels":false,"title":null,"labelOverlap":false}},
     "y":{"field":"y","type":"quantitative","scale":{"domain":[-1.12,6],"nice":false,"zero":false},"axis":{"values":[-1,-0.8,-0.6,-0.4,-0.2,0,0.2,0.4,0.6,0.8,1,1.2,1.4,1.6,1.8,2,2.2,2.4,2.6,2.8,3,3.2,3.4,3.6,3.8,4,4.2,4.4,4.6,4.8,5,5.2,5.4,5.6,5.8,6],"labelExpr":"abs(datum.value-round(datum.value))<0.01 ? format(datum.value,'d') : ''","labelOverlap":false,"title":"δab = (Ra−Rb) / (Ra+Rb)"}},
     "color":{"field":"s","type":"nominal","scale":{"domain":["z","p1","p3","p5","p10","p15","p20","p25","p30","p35","p40"],"range":["#9a9a9a","#0a0a8c","#1438ff","#1ea0ff","#1ee0d8","#2cf0a0","#3cdc28","#c8f01e","#ff9c00","#ff2a0a","#8c0a0a"]},
      "legend":{"values":["p1","p3","p5","p10","p15","p20","p25","p30","p35","p40"],"orient":"none","legendX":71,"legendY":16,"symbolType":"stroke","symbolSize":12,"symbolStrokeWidth":3.5,"labelFontSize":4.5,"labelOffset":1.5,"rowPadding":-0.3,"padding":2.5,"fillColor":"#e3e3e3","titleFontSize":4.5,"titleFontWeight":"normal","titlePadding":1.5,"labelFont":"Liberation Sans","titleFont":"Liberation Sans","labelColor":"#222","titleColor":"#222","labelExpr":"substring(datum.label,1)","title":"P (MPa) ∥ [010]ₒᵣ"}}}},
  {"width":120,"height":120,"data":{"name":"f"},"title":"(f) BaFe₂As₂",
   "transform":[{"fold":["z","p1","p3","p5","p10","p15","p20","p25","p30","p35","p40"],"as":["s","y"]}],
   "mark":{"type":"line"},
   "encoding":{
     "x":{"field":"x","type":"quantitative","scale":{"domain":[0.75,1.35],"nice":false,"zero":false},"axis":{"values":[0.76,0.78,0.8,0.82,0.84,0.86,0.88,0.9,0.92,0.94,0.96,0.98,1,1.02,1.04,1.06,1.08,1.1,1.12,1.14,1.16,1.18,1.2,1.22,1.24,1.26,1.28,1.3,1.32,1.34],"labels":false,"title":null,"labelOverlap":false}},
     "y":{"field":"y","type":"quantitative","scale":{"domain":[-1.12,6],"nice":false,"zero":false},"axis":{"values":[-1,-0.8,-0.6,-0.4,-0.2,0,0.2,0.4,0.6,0.8,1,1.2,1.4,1.6,1.8,2,2.2,2.4,2.6,2.8,3,3.2,3.4,3.6,3.8,4,4.2,4.4,4.6,4.8,5,5.2,5.4,5.6,5.8,6],"labelExpr":"abs(datum.value-round(datum.value))<0.01 ? format(datum.value,'d') : ''","labelOverlap":false,"title":"δab = (Ra−Rb) / (Ra+Rb)"}},
     "color":{"field":"s","type":"nominal","scale":{"domain":["z","p1","p3","p5","p10","p15","p20","p25","p30","p35","p40"],"range":["#9a9a9a","#0a0a8c","#1438ff","#1ea0ff","#1ee0d8","#2cf0a0","#3cdc28","#c8f01e","#ff9c00","#ff2a0a","#8c0a0a"]},"legend":null}}},
  {"width":120,"height":119,"data":{"name":"g"},"title":"(g) SrFe₂As₂",
   "transform":[{"fold":["z","p1","p3","p5","p10","p15","p20","p25","p30","p35","p40"],"as":["s","y"]}],
   "mark":{"type":"line"},
   "encoding":{
     "x":{"field":"x","type":"quantitative","scale":{"domain":[0.75,1.35],"nice":false,"zero":false},"axis":{"values":[0.76,0.78,0.8,0.82,0.84,0.86,0.88,0.9,0.92,0.94,0.96,0.98,1,1.02,1.04,1.06,1.08,1.1,1.12,1.14,1.16,1.18,1.2,1.22,1.24,1.26,1.28,1.3,1.32,1.34],"labelExpr":"abs(datum.value*10-round(datum.value*10))<0.01 ? format(datum.value,'.1f') : ''","labelOverlap":false,"labelFlush":false,"labelPadding":3,"titlePadding":3,"title":"T/Tₙ"}},
     "y":{"field":"y","type":"quantitative","scale":{"domain":[-1,6.06],"nice":false,"zero":false},"axis":{"values":[-1,-0.8,-0.6,-0.4,-0.2,0,0.2,0.4,0.6,0.8,1,1.2,1.4,1.6,1.8,2,2.2,2.4,2.6,2.8,3,3.2,3.4,3.6,3.8,4,4.2,4.4,4.6,4.8,5,5.2,5.4,5.6,5.8,6],"labelExpr":"abs(datum.value-round(datum.value))<0.01 ? format(datum.value,'d') : ''","labelOverlap":false,"title":"δab−δab,P=1"}},
     "color":{"field":"s","type":"nominal","scale":{"domain":["z","p1","p3","p5","p10","p15","p20","p25","p30","p35","p40"],"range":["#9a9a9a","#0a0a8c","#1438ff","#1ea0ff","#1ee0d8","#2cf0a0","#3cdc28","#c8f01e","#ff9c00","#ff2a0a","#8c0a0a"]},"legend":null}}},
  {"width":120,"height":119,"data":{"name":"h"},"title":"(h) BaFe₂As₂",
   "transform":[{"fold":["z","p1","p3","p5","p10","p15","p20","p25","p30","p35","p40"],"as":["s","y"]}],
   "mark":{"type":"line"},
   "encoding":{
     "x":{"field":"x","type":"quantitative","scale":{"domain":[0.75,1.35],"nice":false,"zero":false},"axis":{"values":[0.76,0.78,0.8,0.82,0.84,0.86,0.88,0.9,0.92,0.94,0.96,0.98,1,1.02,1.04,1.06,1.08,1.1,1.12,1.14,1.16,1.18,1.2,1.22,1.24,1.26,1.28,1.3,1.32,1.34],"labelExpr":"abs(datum.value*10-round(datum.value*10))<0.01 ? format(datum.value,'.1f') : ''","labelOverlap":false,"labelFlush":false,"labelPadding":3,"titlePadding":3,"title":"T/Tₙ"}},
     "y":{"field":"y","type":"quantitative","scale":{"domain":[-1,6.06],"nice":false,"zero":false},"axis":{"values":[-1,-0.8,-0.6,-0.4,-0.2,0,0.2,0.4,0.6,0.8,1,1.2,1.4,1.6,1.8,2,2.2,2.4,2.6,2.8,3,3.2,3.4,3.6,3.8,4,4.2,4.4,4.6,4.8,5,5.2,5.4,5.6,5.8,6],"labelExpr":"abs(datum.value-round(datum.value))<0.01 ? format(datum.value,'d') : ''","labelOverlap":false,"title":"δab−δab,P=1"}},
     "color":{"field":"s","type":"nominal","scale":{"domain":["z","p1","p3","p5","p10","p15","p20","p25","p30","p35","p40"],"range":["#9a9a9a","#0a0a8c","#1438ff","#1ea0ff","#1ee0d8","#2cf0a0","#3cdc28","#c8f01e","#ff9c00","#ff2a0a","#8c0a0a"]},"legend":null}}}
]
}
